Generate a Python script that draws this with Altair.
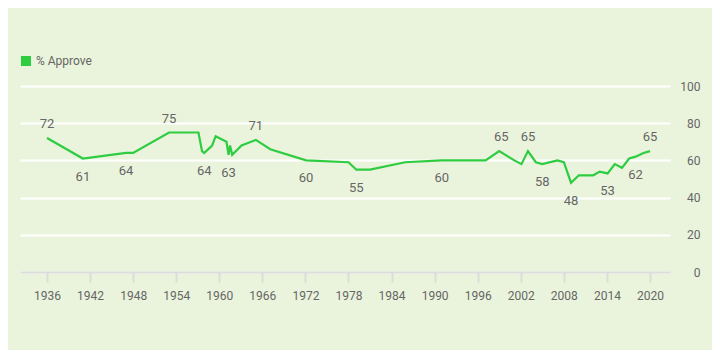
import altair as alt
import pandas as pd

# Line data (year, % approve)
years = [1936, 1941, 1947, 1948, 1953, 1957.1, 1957.6, 1957.9, 1959.0, 1959.5,
         1961.0, 1961.3, 1961.5, 1961.8, 1963.1, 1965.1, 1967.1, 1972.1, 1978.0,
         1979.1, 1981.0, 1985.9, 1991.0, 1997.1, 1999.0, 2001.1, 2002.1, 2003.0,
         2004.1, 2005.0, 2007.1, 2008.0, 2009.0, 2010.1, 2012.1, 2013.0, 2014.1,
         2015.1, 2016.1, 2017.1, 2018.0, 2019.1, 2020.0]
values = [72, 61, 64, 64, 75, 75, 65, 64, 68, 73,
          70, 63, 68, 63, 68, 71, 66, 60, 59,
          55, 55, 59, 60, 60, 65, 60, 58, 65,
          59, 58, 60, 59, 48, 52, 52, 54, 53,
          58, 56, 61, 62, 64, 65]

# Annotated values
label_years = [1936, 1941, 1947, 1953, 1957.9, 1961.3, 1965.1, 1972.1, 1979.1,
               1991.0, 1999.3, 2003.0, 2005.0, 2009.0, 2014.1, 2018.0, 2020.0]
label_values = [72, 61, 64, 75, 64, 63, 71, 60, 55, 60, 65, 65, 58, 48, 53, 62, 65]
label_side = ["above", "below", "below", "above", "below", "below", "above", "below",
              "below", "below", "above", "above", "below", "below", "below", "below", "above"]

x_ticks = [1936, 1942, 1948, 1954, 1960, 1966, 1972, 1978, 1984, 1990, 1996, 2002, 2008, 2014, 2020]
y_ticks = [0, 20, 40, 60, 80, 100]
series_name = "% Approve"

GREEN = "#2ecc40"
TEXT = "#666666"
FONT = "Roboto"

df = pd.DataFrame({"year": years, "value": values, "series": series_name})
lab = pd.DataFrame({"year": label_years, "value": label_values, "side": label_side})

xscale = alt.Scale(domain=[1932.24, 2022.79], nice=False, zero=False)
yscale = alt.Scale(domain=[0, 100], nice=False)

xaxis = alt.Axis(values=x_ticks, format="d", title=None, grid=False,
                 domainColor="#dcdcdc", domainWidth=2, tickColor="#dcdcdc",
                 tickWidth=2, tickSize=10, labelPadding=8, labelColor=TEXT,
                 labelFontSize=12, labelFont=FONT, zindex=1, labelOverlap=False)
yaxis = alt.Axis(orient="right", values=y_ticks, title=None, grid=True,
                 gridColor="white", gridWidth=2, domain=False, ticks=False,
                 labelAlign="right", labelBaseline="middle", labelPadding=30,
                 labelColor=TEXT, labelFontSize=12, labelFont=FONT,
                 labelOverlap=False, labelBound=False, labelFlush=False)

X = alt.X("year:Q", scale=xscale, axis=xaxis)
Y = alt.Y("value:Q", scale=yscale, axis=yaxis)

line = alt.Chart(df).mark_line(strokeWidth=2.2, interpolate="linear").encode(
    x=X, y=Y,
    color=alt.Color("series:N", scale=alt.Scale(range=[GREEN]),
                    legend=alt.Legend(orient="none", legendX=0, legendY=-31, title=None,
                                      symbolType="square", symbolSize=100, padding=0,
                                      labelOffset=4, labelFontSize=12, labelColor=TEXT,
                                      labelFont=FONT, symbolFillColor=GREEN,
                                      symbolStrokeColor=GREEN, symbolStrokeWidth=0)),
)

above = alt.Chart(lab).transform_filter(alt.datum.side == "above").mark_text(
    dy=-14, fontSize=13, color=TEXT, font=FONT, baseline="middle"
).encode(x=X, y=Y, text=alt.Text("value:Q"))

below = alt.Chart(lab).transform_filter(alt.datum.side == "below").mark_text(
    dy=18, fontSize=13, color=TEXT, font=FONT, baseline="middle"
).encode(x=X, y=Y, text=alt.Text("value:Q"))

chart = alt.layer(line, above, below).properties(
    width=650, height=186,
    autosize=alt.AutoSizeParams(type="none"),
    padding={"left": 12, "top": 78, "right": 42, "bottom": 78},
    background="#eaf4dc",
).configure_view(strokeWidth=0)

chart.save("out.html", embed_options={"renderer": "svg", "actions": False})
